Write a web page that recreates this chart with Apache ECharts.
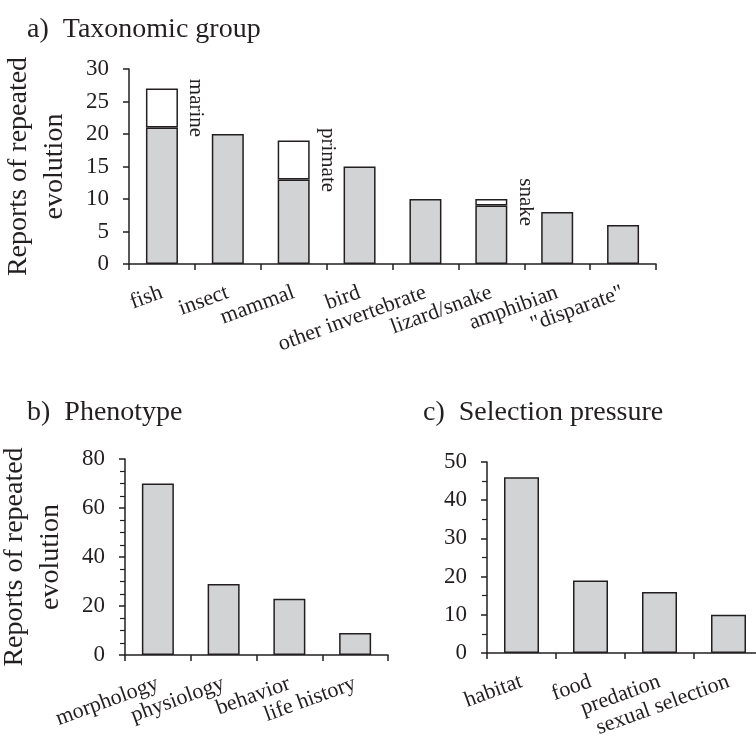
<!DOCTYPE html>
<html><head><meta charset="utf-8">
<script src="https://cdn.jsdelivr.net/npm/echarts@6/dist/echarts.min.js"></script>
<style>html,body{margin:0;padding:0;background:#fff}#c{width:756px;height:749px}</style>
</head><body><div id="c"></div>
<script>
// ---- data ----
const taxaCategories = ['fish', 'insect', 'mammal', 'bird', 'other invertebrate', 'lizard/snake', 'amphibian', '"disparate"'];
const taxaBase = [21, 20, 13, 15, 10, 9, 8, 6];
const taxaSubgroup = [6, null, 6, null, null, 1, null, null];
const taxaSubgroupNames = ['marine', '', 'primate', '', '', 'snake', '', ''];
const taxaAxis = { min: 0, max: 30, interval: 5 };

const phenoCategories = ['morphology', 'physiology', 'behavior', 'life history'];
const phenoValues = [70, 29, 23, 9];
const phenoAxis = { min: 0, max: 80, interval: 20 };

const selCategories = ['habitat', 'food', 'predation', 'sexual selection'];
const selValues = [46, 19, 16, 10];
const selAxis = { min: 0, max: 50, interval: 10 };

const titles = ['a)  Taxonomic group', 'b)  Phenotype', 'c)  Selection pressure'];
const yName = 'Reports of repeated\nevolution';

// ---- style ----
const INK = '#231f20';
const GREY = '#d1d3d4';
const FONT = 'Liberation Serif';

function xAx(gi, cats) {
  return {
    type: 'category', gridIndex: gi, data: cats, boundaryGap: true,
    axisLine: { show: true, lineStyle: { color: INK, width: 1.5 } },
    axisTick: { show: true, length: 6, interval: 0, alignWithLabel: false, lineStyle: { color: INK, width: 1.5 } },
    axisLabel: { interval: 0, rotate: 20, margin: 28, color: INK, fontFamily: FONT, fontSize: 22, hideOverlap: false },
    splitLine: { show: false }
  };
}
function yAx(gi, ax, minorSplit, name) {
  const o = {
    type: 'value', gridIndex: gi, min: ax.min, max: ax.max, interval: ax.interval,
    axisLine: { show: true, lineStyle: { color: INK, width: 1.5 } },
    axisTick: { show: true, length: 6, lineStyle: { color: INK, width: 1.5 } },
    axisLabel: { margin: 20, color: INK, fontFamily: FONT, fontSize: 23 },
    splitLine: { show: false }
  };
  if (minorSplit) {
    o.minorTick = { show: true, splitNumber: minorSplit, length: 5, lineStyle: { color: INK, width: 1.2 } };
  }
  if (name) {
    o.name = name;
    o.nameLocation = 'middle';
    o.nameGap = 56;
    o.nameRotate = 90;
    o.nameTextStyle = { color: INK, fontFamily: FONT, fontSize: 28, lineHeight: 36 };
  }
  return o;
}
const barStyle = { color: GREY, borderColor: INK, borderWidth: 1.5 };
const titleStyle = { color: INK, fontFamily: FONT, fontSize: 28, fontWeight: 'normal' };

const chart = echarts.init(document.getElementById('c'), null, { renderer: 'canvas' });
chart.setOption({
  animation: false,
  backgroundColor: '#fff',
  title: [
    { text: titles[0], left: 22, top: 11, textStyle: titleStyle },
    { text: titles[1], left: 22, top: 394, textStyle: titleStyle },
    { text: titles[2], left: 418, top: 394, textStyle: titleStyle }
  ],
  grid: [
    { left: 129, top: 69, width: 527, height: 195, containLabel: false, outerBoundsMode: 'none' },
    { left: 125, top: 459, width: 263, height: 196, containLabel: false, outerBoundsMode: 'none' },
    { left: 487, top: 462, width: 276, height: 191, containLabel: false, outerBoundsMode: 'none' }
  ],
  xAxis: [xAx(0, taxaCategories), xAx(1, phenoCategories), xAx(2, selCategories)],
  yAxis: [yAx(0, taxaAxis, 0, yName), yAx(1, phenoAxis, 4, yName), yAx(2, selAxis, 2, null)],
  series: [
    { type: 'bar', xAxisIndex: 0, yAxisIndex: 0, stack: 'taxa', data: taxaBase, barWidth: 32, itemStyle: barStyle },
    { type: 'bar', xAxisIndex: 0, yAxisIndex: 0, stack: 'taxa', data: taxaSubgroup, barWidth: 32,
      itemStyle: { color: '#ffffff', borderColor: INK, borderWidth: 1.5 },
      label: {
        show: true, position: 'right', distance: 18, rotate: -90, align: 'center', verticalAlign: 'middle',
        color: INK, fontFamily: FONT, fontSize: 21,
        formatter: p => taxaSubgroupNames[p.dataIndex]
      }
    },
    { type: 'bar', xAxisIndex: 1, yAxisIndex: 1, data: phenoValues, barWidth: 32, itemStyle: barStyle },
    { type: 'bar', xAxisIndex: 2, yAxisIndex: 2, data: selValues, barWidth: 35, itemStyle: barStyle }
  ]
});
</script></body></html>
